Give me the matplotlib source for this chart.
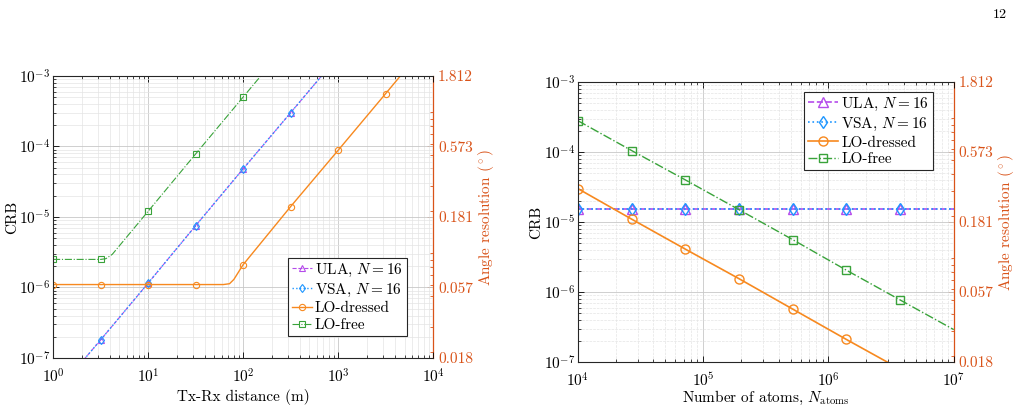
import numpy as np
import matplotlib
matplotlib.use("Agg")
import matplotlib.pyplot as plt
from matplotlib.ticker import LogLocator, NullFormatter, FixedLocator

plt.rcParams['font.family'] = ['cmr10', 'DejaVu Serif']
plt.rcParams['mathtext.fontset'] = 'cm'
plt.rcParams['axes.formatter.use_mathtext'] = True
plt.rcParams['font.size'] = 11

# ---------------- data: left panel (CRB vs Tx-Rx distance) ----------------
dist_ula = [1, 3.162, 10, 31.62, 100, 316.2, 1000]
crb_ula_dist = [2.9e-8, 1.8e-7, 1.15e-6, 7.5e-6, 4.8e-5, 3.0e-4, 1.9e-3]
dist_vsa = [1, 3.162, 10, 31.62, 100, 316.2, 1000]
crb_vsa_dist = [2.9e-8, 1.8e-7, 1.15e-6, 7.5e-6, 4.8e-5, 3.0e-4, 1.9e-3]
dist_dressed = [1, 3.162, 10, 31.62, 62, 72, 80, 100, 316.2, 1000, 3162, 10000]
crb_dressed_dist = [1.1e-6, 1.1e-6, 1.1e-6, 1.1e-6, 1.1e-6, 1.13e-6, 1.3e-6,
                    2.1e-6, 1.4e-5, 8.8e-5, 5.6e-4, 3.6e-3]
dist_free = [1, 3.162, 3.6, 4.2, 10, 31.62, 100, 316.2]
crb_free_dist = [2.5e-6, 2.5e-6, 2.56e-6, 2.95e-6, 1.2e-5, 7.8e-5, 5.0e-4, 3.2e-3]

# ---------------- data: right panel (CRB vs number of atoms) ----------------
n_atoms = [1e4, 2.683e4, 7.197e4, 1.931e5, 5.179e5, 1.389e6, 3.728e6, 1e7]
crb_ula_atoms = [1.55e-5] * 8
crb_vsa_atoms = [1.55e-5] * 8
crb_dressed_atoms = [3.0e-5, 1.1e-5, 4.1e-6, 1.55e-6, 5.7e-7, 2.1e-7, 7.9e-8, 3.0e-8]
crb_free_atoms = [2.8e-4, 1.05e-4, 4.0e-5, 1.5e-5, 5.6e-6, 2.05e-6, 7.7e-7, 2.9e-7]

crb_ticks = [1e-7, 1e-6, 1e-5, 1e-4, 1e-3]
angle_tick_labels = ["0.018", "0.057", "0.181", "0.573", "1.812"]

labels = ["ULA, $N=16$", "VSA, $N=16$", "LO-dressed", "LO-free"]

C_ULA = '#B54CEB'
C_VSA = '#1E96FF'
C_DRESSED = '#F7891F'
C_FREE = '#39A33A'
C_AXIS = '#D95319'


def fwd(c):
    return np.sqrt(np.abs(c)) * 180 / np.pi


def inv(a):
    return (np.asarray(a) * np.pi / 180) ** 2


fig = plt.figure(figsize=(10.3, 4.13), dpi=100)
axL = fig.add_axes([0.0515, 0.1332, 0.369, 0.683])
axR = fig.add_axes([0.561, 0.1235, 0.365, 0.678])


def style_axes(ax, minor_ls):
    ax.set_xscale('log')
    ax.set_yscale('log')
    ax.set_ylim(1e-7, 1e-3)
    ax.grid(True, which='major', color='#c8c8c8', lw=0.6)
    ax.grid(True, which='minor', color='#e4e4e4', lw=0.5, ls=minor_ls)
    ax.set_axisbelow(True)
    ax.tick_params(which='both', direction='in', top=True, right=False)
    ax.tick_params(which='major', length=4, width=0.6)
    ax.tick_params(which='minor', length=2, width=0.5)
    ax.tick_params(axis='y', which='major', pad=2)
    ax.tick_params(axis='x', which='major', pad=7)
    ax.yaxis.set_major_locator(FixedLocator(crb_ticks))
    ax.yaxis.set_minor_locator(LogLocator(base=10, subs=np.arange(2, 10)))
    ax.yaxis.set_minor_formatter(NullFormatter())
    for s in ['left', 'bottom', 'top']:
        ax.spines[s].set_color('#262626')
        ax.spines[s].set_linewidth(0.8)
    ax.spines['right'].set_visible(False)
    ax.set_ylabel('CRB', labelpad=0)
    sec = ax.secondary_yaxis('right', functions=(fwd, inv))
    sec.set_yticks([float(fwd(v)) for v in crb_ticks])
    sec.set_yticklabels(angle_tick_labels)
    sec.yaxis.set_minor_locator(LogLocator(base=10, subs=np.arange(1, 10)))
    sec.yaxis.set_minor_formatter(NullFormatter())
    sec.tick_params(which='both', direction='in', colors=C_AXIS)
    sec.tick_params(which='major', length=4, width=0.6)
    sec.tick_params(which='minor', length=2, width=0.6)
    sec.spines['right'].set_color(C_AXIS)
    sec.spines['right'].set_linewidth(0.9)
    sec.set_ylabel(r'Angle resolution $(^\circ)$', color=C_AXIS, labelpad=2)
    return sec


# ---------- left panel ----------
style_axes(axL, '-')
axL.set_xlim(1, 1e4)
lw = 0.8
ms = 4.5
axL.plot(dist_ula, crb_ula_dist, ls='--', color=C_ULA, lw=lw, marker='^', ms=ms,
         mfc='none', mew=0.8, markevery=[1, 2, 3, 4, 5], label=labels[0])
axL.plot(dist_vsa, crb_vsa_dist, ls=':', color=C_VSA, lw=lw + 0.2, marker='d', ms=ms,
         mfc='none', mew=0.8, markevery=[1, 2, 3, 4, 5], label=labels[1])
axL.plot(dist_dressed, crb_dressed_dist, ls='-', color=C_DRESSED, lw=lw + 0.2, marker='o',
         ms=ms, mfc='none', mew=0.8, markevery=[0, 1, 2, 3, 7, 8, 9, 10], label=labels[2])
axL.plot(dist_free, crb_free_dist, ls='-.', color=C_FREE, lw=lw, marker='s', ms=ms - 0.5,
         mfc='none', mew=0.8, markevery=[0, 1, 4, 5, 6], label=labels[3])
axL.set_xlabel('Tx-Rx distance (m)', labelpad=2)
legL = axL.legend(loc='lower right', bbox_to_anchor=(0.93, 0.078), frameon=True, fancybox=False,
                  edgecolor='#262626', framealpha=1, borderpad=0.25, labelspacing=0.2,
                  handlelength=1.3, handletextpad=0.2, borderaxespad=0)
legL.get_frame().set_linewidth(0.8)

# ---------- right panel ----------
style_axes(axR, '--')
axR.set_xlim(1e4, 1e7)
lw2 = 1.2
ms2 = 6.5
mk = list(range(7))
axR.plot(n_atoms, crb_ula_atoms, ls='--', color=C_ULA, lw=lw2, marker='^', ms=ms2,
         mfc='none', mew=1.0, markevery=mk, label=labels[0])
axR.plot(n_atoms, crb_vsa_atoms, ls=':', color=C_VSA, lw=lw2, marker='d', ms=ms2,
         mfc='none', mew=1.0, markevery=mk, label=labels[1])
axR.plot(n_atoms, crb_dressed_atoms, ls='-', color=C_DRESSED, lw=lw2, marker='o', ms=ms2,
         mfc='none', mew=1.0, markevery=mk, label=labels[2])
axR.plot(n_atoms, crb_free_atoms, ls='-.', color=C_FREE, lw=lw2 - 0.2, marker='s', ms=ms2 - 1,
         mfc='none', mew=1.0, markevery=mk, label=labels[3])
axR.set_xlabel(r'Number of atoms, $N_{\mathrm{atoms}}$', labelpad=-1)
legR = axR.legend(loc='upper right', bbox_to_anchor=(0.945, 0.965), frameon=True, fancybox=False,
                  edgecolor='#262626', framealpha=1, borderpad=0.25, labelspacing=0.2,
                  handlelength=2.0, handletextpad=0.2, borderaxespad=0)
legR.get_frame().set_linewidth(0.8)

fig.text(0.971, 0.965, '12', fontsize=10, ha='center', va='center')

fig.savefig('out.png', dpi=100)
